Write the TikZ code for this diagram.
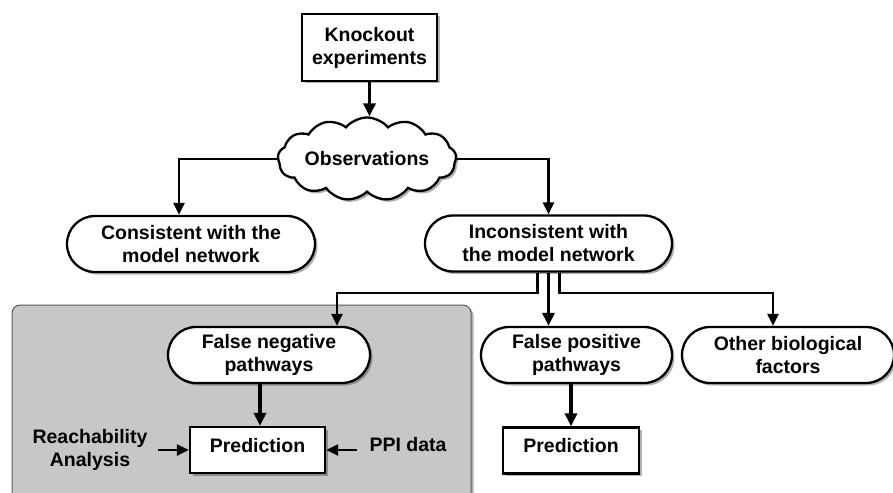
\documentclass[tikz,border=0pt]{standalone}
\usepackage{fontspec}
\setmainfont{Liberation Sans}
\usetikzlibrary{shapes.misc,shapes.symbols,shadows,arrows.meta,calc}
\definecolor{panel}{RGB}{197,200,196}
\begin{document}
\begin{tikzpicture}[x=1pt,y=-1pt,
  every node/.style={font=\fontsize{19.5}{23}\selectfont\bfseries, align=center},
  shad/.style={drop shadow={shadow xshift=2.5pt,shadow yshift=-2.5pt,opacity=0.3,fill=black}},
  boxn/.style={draw, line width=2.3pt, fill=white, rectangle, shad, inner sep=0pt},
  pill/.style={draw, line width=2.3pt, fill=white, rounded rectangle, shad, inner sep=0pt, minimum height=56pt},
  conn/.style={line width=2.4pt, -{Triangle[length=12pt,width=11pt]}},
  arr/.style={line width=3.2pt, -{Triangle[length=13pt,width=12pt]}},
]
\useasboundingbox (0,0) rectangle (893,492);
% grey panel
\draw[fill=panel, draw=black!65, line width=1pt, rounded corners=8pt, shad] (12,305) rectangle (471,510);

\node[boxn, minimum width=135pt, minimum height=67pt] (ko) at (369.5,47.5) {Knockout\\experiments};
\node[cloud, draw, line width=2.3pt, fill=white, cloud puffs=13, cloud puff arc=100, aspect=2.7,
      minimum width=170pt, minimum height=64pt, inner sep=0pt, shad] (obs) at (367,159) {Observations};

\node[pill, minimum width=248pt] (cons) at (191,244) {Consistent with the\\model network};
\node[pill, minimum width=247pt] (incons) at (548.5,243.5) {Inconsistent with\\the model network};

\node[pill, minimum width=202pt] (fn) at (269,355) {False negative\\pathways};
\node[pill, minimum width=191pt] (fp) at (576.5,355) {False positive\\pathways};
\node[pill, minimum width=212pt] (oth) at (788,355) {Other biological\\factors};

\node[boxn, minimum width=135pt, text height=25pt, text depth=21pt] (p1) at (257.5,450) {Prediction};
\node[boxn, minimum width=136pt, text height=25pt, text depth=21pt] (p2) at (571,450.5) {Prediction};

\node[inner xsep=10pt, inner ysep=0pt] (reach) at (90,450) {Reachability\\Analysis};
\node[inner xsep=12pt, inner ysep=0pt] (ppi) at (408,445) {PPI data};

\coordinate (jl) at (337,293);
\coordinate (jr) at (773,293);
\coordinate (fa) at ($(p1.north)+(2.5,0)$);

% connectors
\draw[arr] (ko.south) -- (ko.south |- obs.north);
\draw[conn] (obs.east) -| (incons.north);
\draw[conn] (obs.west) -| ($(cons.north)+(-12,0)$);
\draw[conn] ($(incons.south)+(-11,0)$) |- (jl) -- (jl |- fn.north);
\draw[arr] (incons.south) -- (incons.south |- fp.north);
\draw[conn] ($(incons.south)+(11,0)$) |- (jr) -- (jr |- oth.north);
\draw[arr] (fa |- fn.south) -- (fa);
\draw[arr] (p2.north |- fp.south) -- (p2.north);
\draw[conn] (reach.east |- p1.west) -- (p1.west);
\draw[conn] (ppi.west |- p1.east) -- (p1.east);
\end{tikzpicture}
\end{document}
